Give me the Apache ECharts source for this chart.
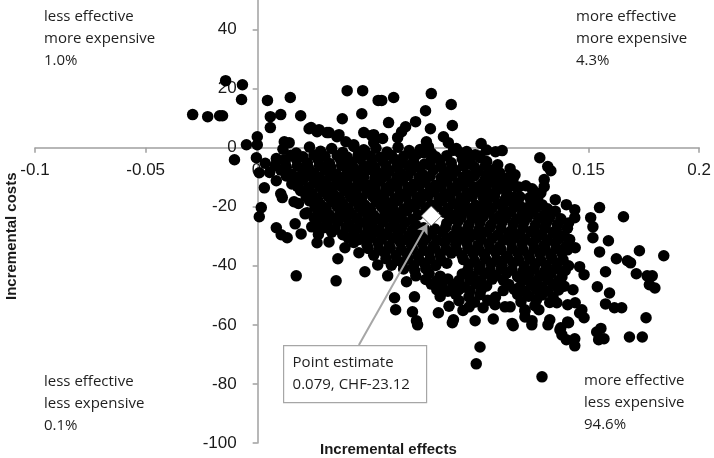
<!DOCTYPE html>
<html>
<head>
<meta charset="utf-8">
<script src="https://cdn.jsdelivr.net/npm/echarts@6/dist/echarts.min.js"></script>
<style>
  html, body { margin: 0; padding: 0; background: #fff; }
</style>
</head>
<body>
<div id="main" style="width: 714px;height: 458px"></div>
<script>
// bootstrap draws: [incremental effect, incremental cost]
var edgeDraws = [
  [-0.0288,11.2],[-0.022,10.5],[-0.0166,10.8],[-0.0153,10.8],[-0.0139,22.7],[-0.0063,21.3],[-0.0067,16.3],
  [-0.0045,1.0],[-0.0099,-4.1],[0.0004,3.7],[0.0004,1.0],[0.0,-3.4],[0.005,16],[0.0063,10.5],[0.0063,6.8],
  [0.011,11.2],[0.0153,17],[0.020,10.8],[0.041,19.3],[0.0388,9.8],[0.0247,6.8],[0.048,19.3],[0.055,16],
  [0.0476,11.5],[0.0485,5.1],[0.052,4.1],[0.0238,6.4],[0.0283,6.1],[0.0328,5.1],[0.0373,4.4],[0.0126,2],
  [0.0148,1.7],[0.0013,-8.5],[0.0036,-13.6],[0.009,-3.7],[0.0126,-4.1],
  [0.0566,16],[0.062,17],[0.079,18.3],[0.088,14.6],[0.0764,12.5],[0.0885,7.5],[0.0719,8.8],[0.0786,6.4],
  [0.0674,7.1],[0.0656,5.4],[0.0638,3.4],[0.0597,8.5],[0.057,3.1],[0.053,4.4],[0.0845,3.7],[0.0867,1.7],
  [0.0768,2],[0.0777,0.3],[0.1015,1.4],[0.108,-1.4],[0.111,-1],[0.0903,-0.3],[0.092,-1.7],[0.0988,-2.4],
  [0.101,-3.4],[0.0723,-2.4],[0.0755,-1.7],[0.079,-4.1],[0.109,-5.8],[0.107,-7.5],[0.1146,-7.1],
  [0.1168,-9.2],[0.1159,-10.8],[0.1217,-12.9],[0.128,-3.4],[0.119,-16.6],[0.1235,-16.9],[0.1105,-13.6],
  [0.1024,-11.9],[0.1047,-15.9],
  [0.0274,5.4],[0.0319,5.1],[0.0364,3.7],[0.0404,2.0],[0.044,1.0],[0.0485,-0.7],[0.053,1.7],
  [0.1316,-6.4],[0.133,-7.8],[0.130,-10.8],[0.130,-13.2],[0.1285,-15.3],[0.135,-17.6],[0.14,-19.3],
  [0.1438,-21],[0.1438,-23.7],[0.155,-20.3],[0.1658,-23.4],[0.151,-23.7],[0.152,-26.8],[0.152,-30.5],
  [0.159,-31.5],[0.155,-35.3],[0.1626,-37.6],[0.1676,-38.3],[0.169,-39],[0.173,-34.9],[0.184,-36.6],
  [0.1716,-42.7],[0.1765,-43.4],[0.1788,-43.4],[0.1775,-46.4],[0.180,-47.5],[0.1577,-42],[0.154,-47.1],
  [0.1595,-49.2],[0.1577,-52.9],[0.1617,-54.2],[0.165,-54.2],[0.176,-57.6],[0.1556,-61.2],[0.157,-64.7],
  [0.1685,-64.1],[0.1743,-64.1],[0.1375,-61],[0.138,-63.4],[0.140,-65],[0.1438,-67.1],[0.141,-59.3],
  [0.129,-77.6],[0.101,-67.5],[0.0993,-73.2],[0.1244,-60],[0.116,-60.3],[0.0885,-59.3],[0.0728,-60],
  [0.0714,-50.5],[0.0705,-55.6],[0.0624,-50.8],[0.0629,-54.9],[0.0822,-55.9],[0.049,-42],[0.0548,-39.7],
  [0.0593,-43.4],[0.0678,-45.4],[0.144,-33.9],[0.146,-40.3],[0.148,-43],[0.143,-48.1],[0.1406,-53.2],
  [0.144,-52.5],[0.147,-54.9],[0.1406,-59],[0.146,-56],[0.148,-57.6],
  [0.1123,-53.9],[0.1213,-54.9],[0.1213,-57.3],[0.1276,-54.9],[0.1325,-58.3],[0.1357,-52.5],
  [0.0723,-58.6],[0.089,-58.3],[0.0988,-58.6],[0.107,-58],[0.1155,-59.5],[0.1245,-58.6],[0.1317,-60],
  [0.1371,-61.7],[0.1438,-64.7],[0.1537,-62.4],[0.1546,-65],
  [0.0022,-20.3],[0.0013,-23.4],[0.009,-27.1],[0.0112,-29.5],[0.0139,-30.5],[0.0175,-25.8],[0.0202,-29.2],
  [0.018,-43.4],[0.036,-45.1],[0.0368,-37.6],[0.0274,-32.2],[0.0328,-31.9],[0.04,-33.9],[0.0463,-35.6],
  [0.0117,-16.9],[0.017,-18.3],[0.0229,-22],[0.0261,-23.7],[0.0292,-27.1],[0.025,-26.8],[0.0247,-16.9],
  [0.0261,-18.6]
];

var coreDraws = [
  [0.012,-0.5],[0.018,-1.8],[0.024,0.2],[0.029,-1.2],[0.034,-0.3],[0.039,-1.6],[0.044,0.4],[0.049,-1.1],
  [0.054,-0.2],[0.059,-1.5],[0.064,0.1],[0.069,-1.0],[0.074,-0.6],[0.079,-1.8],[0.089,-0.9],[0.095,-1.3],
  [0.104,-0.8],
  [0.004,-5.3],[0.013,-4.8],[0.018,-3.9],[0.023,-5.1],[0.028,-4.2],[0.033,-5.4],[0.038,-4.0],[0.043,-4.9],
  [0.047,-3.8],[0.052,-5.2],[0.057,-4.4],[0.062,-3.7],[0.066,-5.0],[0.071,-4.6],[0.076,-5.5],[0.083,-4.3],
  [0.088,-5.1],[0.093,-3.9],[0.097,-5.6],[0.104,-4.7],
  [0.006,-8.4],[0.011,-7.6],[0.016,-9.0],[0.021,-7.9],[0.026,-8.7],[0.031,-7.5],[0.036,-8.9],[0.041,-7.8],
  [0.046,-8.5],[0.051,-7.4],[0.056,-8.8],[0.06,-7.9],[0.065,-8.6],[0.07,-7.7],[0.075,-8.9],[0.08,-7.5],
  [0.085,-8.3],[0.09,-7.8],[0.095,-9.1],[0.1,-8.0],[0.104,-9.3],[0.11,-8.6],
  [0.009,-11.2],[0.016,-12.3],[0.021,-11.0],[0.026,-12.0],[0.031,-11.4],[0.036,-12.5],[0.041,-11.1],
  [0.046,-11.9],[0.051,-12.6],[0.056,-11.3],[0.061,-12.2],[0.066,-11.0],[0.071,-12.4],[0.076,-11.6],
  [0.081,-12.7],[0.086,-11.2],[0.091,-12.1],[0.096,-11.5],[0.101,-12.8],[0.106,-11.6],[0.111,-12.4],
  [0.117,-13.2],
  [0.011,-15.6],[0.02,-14.6],[0.025,-15.4],[0.03,-14.8],[0.035,-15.9],[0.04,-14.5],[0.045,-15.3],
  [0.05,-14.9],[0.055,-15.8],[0.06,-14.6],[0.065,-15.5],[0.07,-14.7],[0.075,-15.7],[0.08,-14.8],
  [0.085,-15.6],[0.09,-14.5],[0.095,-15.4],[0.1,-14.7],[0.108,-15.0],[0.113,-15.2],[0.125,-14.5],
  [0.019,-18.9],[0.024,-18.0],[0.029,-19.2],[0.034,-18.3],[0.039,-19.0],[0.044,-18.1],[0.049,-19.4],
  [0.054,-18.2],[0.059,-18.8],[0.064,-17.9],[0.069,-19.1],[0.074,-18.4],[0.079,-19.3],[0.084,-18.0],
  [0.089,-18.9],[0.094,-18.2],[0.099,-19.5],[0.104,-18.3],[0.109,-19.0],[0.114,-18.1],[0.119,-19.6],
  [0.124,-18.7],[0.129,-19.3],
  [0.022,-22.4],[0.028,-21.6],[0.033,-22.7],[0.038,-21.8],[0.043,-22.5],[0.048,-21.5],[0.053,-22.9],
  [0.058,-21.7],[0.063,-22.3],[0.068,-21.4],[0.073,-22.8],[0.078,-21.7],[0.085,-21.9],[0.09,-22.6],
  [0.095,-21.5],[0.1,-22.4],[0.105,-21.7],[0.11,-22.9],[0.115,-21.6],[0.12,-22.5],[0.125,-21.8],
  [0.13,-22.7],[0.135,-21.5],
  [0.027,-25.2],[0.032,-26.1],[0.037,-25.0],[0.042,-25.9],[0.047,-25.3],[0.052,-26.2],[0.057,-25.1],
  [0.062,-25.8],[0.067,-25.4],[0.072,-26.3],[0.086,-25.6],[0.091,-25.0],[0.096,-26.0],[0.101,-25.3],
  [0.106,-26.1],[0.111,-25.2],[0.116,-25.9],[0.121,-25.0],[0.126,-26.2],[0.131,-25.4],[0.136,-26.0],
  [0.141,-25.5],
  [0.028,-29.4],[0.034,-28.6],[0.039,-29.5],[0.044,-28.7],[0.049,-29.6],[0.054,-28.5],[0.059,-29.3],
  [0.064,-28.8],[0.069,-29.7],[0.074,-28.4],[0.079,-29.2],[0.084,-28.6],[0.089,-29.8],[0.094,-28.7],
  [0.099,-29.4],[0.104,-28.5],[0.109,-29.6],[0.114,-28.9],[0.119,-29.3],[0.124,-28.4],[0.129,-29.5],
  [0.134,-28.8],[0.139,-29.7],
  [0.044,-32.1],[0.05,-33.0],[0.055,-32.3],[0.06,-33.2],[0.065,-32.0],[0.07,-32.9],[0.075,-32.4],
  [0.08,-33.3],[0.085,-32.1],[0.09,-32.8],[0.095,-32.2],[0.1,-33.1],[0.105,-32.5],[0.11,-33.4],
  [0.115,-32.0],[0.12,-32.7],[0.125,-32.3],[0.13,-33.0],[0.135,-32.4],[0.14,-33.2],
  [0.053,-36.4],[0.058,-35.6],[0.063,-36.5],[0.068,-35.8],[0.073,-36.7],[0.078,-35.5],[0.083,-36.3],
  [0.088,-35.7],[0.093,-36.6],[0.098,-35.9],[0.103,-36.2],[0.108,-35.4],[0.113,-36.8],[0.118,-35.6],
  [0.123,-36.4],[0.128,-35.8],[0.133,-36.5],[0.138,-35.7],
  [0.061,-39.8],[0.066,-39.0],[0.071,-40.0],[0.076,-39.2],[0.081,-39.9],[0.086,-39.1],[0.096,-39.6],
  [0.101,-40.1],[0.106,-39.3],[0.111,-39.8],[0.116,-39.0],[0.121,-40.2],[0.126,-39.4],[0.131,-39.9],
  [0.136,-39.1],[0.141,-40.0],
  [0.072,-43.4],[0.078,-42.6],[0.083,-43.5],[0.093,-42.8],[0.098,-43.6],[0.103,-42.7],[0.108,-43.3],
  [0.113,-42.5],[0.118,-43.7],[0.123,-42.9],[0.128,-43.4],[0.133,-42.6],[0.138,-43.8],
  [0.079,-46.2],[0.084,-47.0],[0.089,-46.4],[0.094,-47.2],[0.099,-46.0],[0.104,-46.8],[0.114,-46.3],
  [0.119,-47.1],[0.124,-46.5],[0.129,-47.3],[0.134,-46.2],[0.139,-46.9],
  [0.083,-50.4],[0.09,-49.6],[0.096,-50.5],[0.101,-49.8],[0.108,-50.6],[0.118,-49.7],[0.123,-50.3],
  [0.129,-49.9],[0.134,-50.7],
  [0.087,-53.7],[0.0933,-55.1],[0.0961,-53.9],[0.1024,-54.2],[0.1078,-53.2],[0.1146,-53.9],
  [0.1213,-55.4],[0.1258,-53.5]
];

// draws lying between the rows above, where the cloud is solid black
var coreFillDraws = [
  [0.0155,-2.6],[0.021,-3.1],[0.026,-2.5],[0.031,-3.0],[0.0365,-2.7],[0.041,-3.2],[0.046,-2.4],[0.0515,-2.9],
  [0.056,-3.3],[0.061,-2.6],[0.0665,-3.0],[0.071,-2.5],[0.081,-3.1],[0.086,-2.7],[0.0965,-3.2],[0.101,-2.8],
  [0.0085,-6.0],[0.0135,-6.6],[0.0185,-6.2],[0.0235,-6.7],[0.0285,-6.1],[0.0335,-6.5],[0.0385,-6.0],
  [0.0435,-6.6],[0.0485,-6.3],[0.0535,-6.8],[0.0585,-6.1],[0.0635,-6.5],[0.0685,-6.2],[0.0735,-6.7],
  [0.0785,-6.0],[0.0835,-6.4],[0.0885,-6.8],[0.0935,-6.2],[0.0985,-6.6],[0.1035,-6.1],
  [0.0135,-9.6],[0.0185,-10.1],[0.0235,-9.5],[0.0285,-10.0],[0.0335,-9.7],[0.0385,-10.2],[0.0435,-9.5],
  [0.0485,-9.9],[0.0535,-10.3],[0.0585,-9.6],[0.0635,-10.0],[0.0685,-9.4],[0.0735,-10.1],[0.0785,-9.7],
  [0.0835,-10.2],[0.0885,-9.5],[0.0935,-10.0],[0.0985,-9.6],[0.1035,-10.3],[0.1085,-9.8],[0.113,-10.4],
  [0.0185,-13.1],[0.0235,-13.6],[0.0285,-13.0],[0.0335,-13.5],[0.0385,-13.2],[0.0435,-13.7],[0.0485,-13.0],
  [0.0535,-13.4],[0.0585,-13.8],[0.0635,-13.1],[0.0685,-13.5],[0.0735,-13.0],[0.0785,-13.6],[0.0835,-13.2],
  [0.0885,-13.7],[0.0935,-13.0],[0.0985,-13.4],[0.1035,-13.8],[0.1085,-13.1],[0.1135,-13.6],[0.1185,-13.3],
  [0.1245,-13.9],
  [0.0225,-16.6],[0.0275,-17.1],[0.0325,-16.5],[0.0375,-17.0],[0.0425,-16.7],[0.0475,-17.2],[0.0525,-16.5],
  [0.0575,-16.9],[0.0625,-17.3],[0.0675,-16.6],[0.0725,-17.0],[0.0775,-16.4],[0.0825,-17.1],[0.0875,-16.7],
  [0.0925,-17.2],[0.0975,-16.5],[0.1025,-17.0],[0.1075,-16.6],[0.1125,-17.3],[0.1165,-16.8],[0.127,-17.2],
  [0.0265,-20.1],[0.0315,-20.6],[0.0365,-20.0],[0.0415,-20.5],[0.0465,-20.2],[0.0515,-20.7],[0.0565,-20.0],
  [0.0615,-20.4],[0.0665,-20.8],[0.0715,-20.1],[0.0765,-20.5],[0.0815,-20.0],[0.0865,-20.6],[0.0915,-20.2],
  [0.0965,-20.7],[0.1015,-20.0],[0.1065,-20.4],[0.1115,-20.8],[0.1165,-20.1],[0.1215,-20.6],[0.1265,-20.2],
  [0.1315,-20.7],
  [0.0305,-23.6],[0.0355,-24.1],[0.0405,-23.5],[0.0455,-24.0],[0.0505,-23.7],[0.0555,-24.2],[0.0605,-23.5],
  [0.0655,-23.9],[0.0705,-24.3],[0.0875,-24.1],[0.0925,-23.6],[0.0975,-24.0],[0.1025,-23.4],[0.1075,-24.1],
  [0.1125,-23.7],[0.1175,-24.2],[0.1225,-23.5],[0.1275,-24.0],[0.1325,-23.6],[0.1375,-24.1],
  [0.0305,-27.1],[0.0355,-27.6],[0.0405,-27.0],[0.0455,-27.5],[0.0505,-27.2],[0.0555,-27.7],[0.0605,-27.0],
  [0.0655,-27.4],[0.0705,-27.8],[0.0755,-27.1],[0.0805,-27.5],[0.0855,-27.0],[0.0905,-27.6],[0.0955,-27.2],
  [0.1005,-27.7],[0.1055,-27.0],[0.1105,-27.4],[0.1155,-27.8],[0.1205,-27.1],[0.1255,-27.6],[0.1305,-27.2],
  [0.1355,-27.7],[0.1405,-27.3],
  [0.0415,-30.6],[0.0465,-31.1],[0.0515,-30.5],[0.0565,-31.0],[0.0615,-30.7],[0.0665,-31.2],[0.0715,-30.5],
  [0.0765,-30.9],[0.0815,-31.3],[0.0865,-30.6],[0.0915,-31.0],[0.0965,-30.4],[0.1015,-31.1],[0.1065,-30.7],
  [0.1115,-31.2],[0.1165,-30.5],[0.1215,-31.0],[0.1265,-30.6],[0.1315,-31.3],[0.1365,-30.8],[0.1415,-31.1],
  [0.0505,-34.1],[0.0555,-34.6],[0.0605,-34.0],[0.0655,-34.5],[0.0705,-34.2],[0.0755,-34.7],[0.0805,-34.0],
  [0.0855,-34.4],[0.0905,-34.8],[0.0955,-34.1],[0.1005,-34.5],[0.1055,-34.0],[0.1105,-34.6],[0.1155,-34.2],
  [0.1205,-34.7],[0.1255,-34.0],[0.1305,-34.4],[0.1355,-34.1],[0.1405,-34.6],
  [0.0585,-37.6],[0.0635,-38.1],[0.0685,-37.5],[0.0735,-38.0],[0.0785,-37.7],[0.0835,-38.2],[0.0935,-37.9],
  [0.0985,-38.3],[0.1035,-37.6],[0.1085,-38.0],[0.1135,-37.4],[0.1185,-38.1],[0.1235,-37.7],[0.1285,-38.2],
  [0.1335,-37.5],[0.1385,-38.0],
  [0.0665,-41.1],[0.0715,-41.6],[0.0765,-41.0],[0.0955,-41.5],[0.1005,-41.2],[0.1055,-41.7],[0.1105,-41.0],
  [0.1155,-41.4],[0.1205,-41.8],[0.1255,-41.1],[0.1305,-41.5],[0.1355,-41.0],[0.1395,-41.6],
  [0.0765,-44.6],[0.0815,-45.1],[0.0865,-44.5],[0.0915,-45.0],[0.0965,-44.7],[0.1015,-45.2],[0.1065,-44.5],
  [0.1115,-44.9],[0.1215,-44.6],[0.1265,-45.1],[0.1315,-44.7],[0.1365,-45.0],
  [0.0815,-48.1],[0.0865,-48.6],[0.0915,-48.0],[0.0965,-48.5],[0.1015,-48.2],[0.1115,-48.4],[0.1165,-48.0],
  [0.1215,-48.7],[0.1265,-48.1],[0.1315,-48.5],[0.1365,-48.2],
  [0.0915,-51.8],[0.0985,-52.3],[0.1045,-51.7],[0.1195,-52.2],[0.1265,-51.6],[0.1325,-52.4]
];

var pointEstimate = [0.079, -23.12];
var arrowFrom = [0.0463, -66.8];
var arrowTo = [0.0772, -25.8];

var xMin = -0.1, xMax = 0.2, xStep = 0.05;
var yMin = -100, yMax = 50, yStep = 20;

var quadrantText = {
  ul: 'less effective\nmore expensive\n1.0%',
  ur: 'more effective\nmore expensive\n4.3%',
  ll: 'less effective\nless expensive\n0.1%',
  lr: 'more effective\nless expensive\n94.6%'
};

var chartDom = document.getElementById('main');
var myChart = echarts.init(chartDom);
var option;

var gridLeft = 35, gridTop = 0, gridW = 668, gridH = 443;
// axes cross at the origin: shift each axis line from the grid edge to zero
var xAxisShift = -gridH * (0 - yMin) / (yMax - yMin);
var yAxisShift = -gridW * (0 - xMin) / (xMax - xMin);

var tickFont = 'Liberation Sans';
var noteFont = 'Open Sans';

function note(x, y, txt) {
  return {
    type: 'text',
    left: x,
    top: y,
    z: 10,
    style: {
      text: txt,
      font: '15px "' + noteFont + '"',
      lineHeight: 22,
      fill: '#1f1f1f'
    }
  };
}

option = {
  animation: false,
  grid: { left: gridLeft, top: gridTop, width: gridW, height: gridH },
  xAxis: {
    type: 'value',
    position: 'bottom',
    offset: xAxisShift,
    min: xMin,
    max: xMax,
    interval: xStep,
    axisLine: { onZero: false, lineStyle: { color: '#a0a0a0', width: 1.5 } },
    axisTick: { show: true, length: 5, lineStyle: { color: '#a0a0a0', width: 1.5 } },
    axisLabel: { margin: 14, fontSize: 17, color: '#1a1a1a', fontFamily: tickFont },
    splitLine: { show: false }
  },
  yAxis: {
    type: 'value',
    position: 'left',
    offset: yAxisShift,
    min: yMin,
    max: yMax,
    interval: yStep,
    axisLine: { onZero: false, lineStyle: { color: '#a0a0a0', width: 1.5 } },
    axisTick: { show: true, length: 5, lineStyle: { color: '#a0a0a0', width: 1.5 } },
    axisLabel: { margin: 21, fontSize: 17, color: '#1a1a1a', fontFamily: tickFont, showMaxLabel: false },
    splitLine: { show: false }
  },
  graphic: [
    note(44, 6, quadrantText.ul),
    note(576, 6, quadrantText.ur),
    note(44, 371, quadrantText.ll),
    note(584, 370, quadrantText.lr),
    {
      type: 'text',
      left: 320,
      top: 442,
      z: 10,
      style: { text: 'Incremental effects', font: 'bold 15px "Liberation Sans"', fill: '#1a1a1a' }
    },
    {
      type: 'text',
      x: 4,
      y: 300,
      rotation: Math.PI / 2,
      z: 10,
      style: { text: 'Incremental costs', font: 'bold 15px "Liberation Sans"', fill: '#1a1a1a' }
    },
    {
      type: 'group',
      left: 283,
      top: 345,
      z: 10,
      children: [
        {
          type: 'rect',
          shape: { x: 0, y: 0, width: 143, height: 57 },
          style: { fill: '#fff', stroke: '#a6a6a6', lineWidth: 1.2 }
        },
        {
          type: 'text',
          x: 9,
          y: 6,
          style: {
            text: 'Point estimate\n0.079, CHF-23.12',
            font: '15px "' + noteFont + '"',
            lineHeight: 22,
            fill: '#1f1f1f'
          }
        }
      ]
    }
  ],
  series: [
    {
      name: 'draws',
      type: 'scatter',
      symbol: 'circle',
      symbolSize: 11.5,
      itemStyle: { color: '#000', opacity: 1 },
      data: edgeDraws.concat(coreDraws, coreFillDraws)
    },
    {
      name: 'point estimate',
      type: 'scatter',
      symbol: 'diamond',
      symbolSize: 20,
      z: 5,
      itemStyle: { color: '#fff', borderColor: '#444', borderWidth: 0.8, opacity: 1 },
      data: [pointEstimate],
      markLine: {
        silent: true,
        symbol: ['none', 'arrow'],
        symbolSize: [9, 10],
        label: { show: false },
        lineStyle: { color: '#a6a6a6', width: 2, type: 'solid' },
        data: [[{ coord: arrowFrom }, { coord: arrowTo }]]
      }
    }
  ]
};

option && myChart.setOption(option);
</script>
</body>
</html>
